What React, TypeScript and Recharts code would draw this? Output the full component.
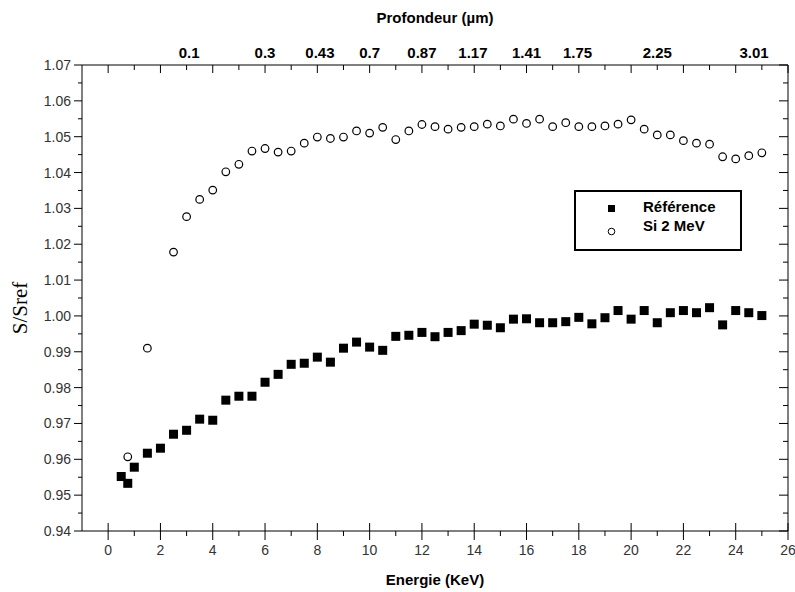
import { ScatterChart, Scatter, XAxis, YAxis, Label } from "recharts";

// Energie (KeV) / S/Sref, série "Référence"
const refEnergy = [
  0.5, 0.75, 1, 1.5, 2, 2.5, 3, 3.5, 4, 4.5, 5, 5.5, 6, 6.5, 7, 7.5, 8, 8.5, 9, 9.5, 10, 10.5, 11, 11.5, 12, 12.5,
  13, 13.5, 14, 14.5, 15, 15.5, 16, 16.5, 17, 17.5, 18, 18.5, 19, 19.5, 20, 20.5, 21, 21.5, 22, 22.5, 23, 23.5, 24,
  24.5, 25,
];
const refRatio = [
  0.9552, 0.9533, 0.9578, 0.9617, 0.9631, 0.967, 0.9681, 0.9712, 0.9709, 0.9765, 0.9776, 0.9776, 0.9815, 0.9837,
  0.9865, 0.9868, 0.9885, 0.9871, 0.991, 0.9927, 0.9913, 0.9904, 0.9943, 0.9946, 0.9954, 0.9942, 0.9954, 0.9959,
  0.9977, 0.9974, 0.9967, 0.9991, 0.9992, 0.9981, 0.9981, 0.9984, 0.9996, 0.9978, 0.9995, 1.0015, 0.9991, 1.0015,
  0.9981, 1.0009, 1.0015, 1.0009, 1.0023, 0.9975, 1.0015, 1.0009, 1.0001,
];

// série "Si 2 MeV"
const siEnergy = [
  0.75, 1.5, 2.5, 3, 3.5, 4, 4.5, 5, 5.5, 6, 6.5, 7, 7.5, 8, 8.5, 9, 9.5, 10, 10.5, 11, 11.5, 12, 12.5, 13, 13.5,
  14, 14.5, 15, 15.5, 16, 16.5, 17, 17.5, 18, 18.5, 19, 19.5, 20, 20.5, 21, 21.5, 22, 22.5, 23, 23.5, 24, 24.5, 25,
];
const siRatio = [
  0.9607, 0.991, 1.0178, 1.0277, 1.0325, 1.0351, 1.0402, 1.0423, 1.046, 1.0467, 1.0457, 1.046, 1.0482, 1.0499,
  1.0495, 1.0499, 1.0516, 1.051, 1.0526, 1.0492, 1.0516, 1.0534, 1.0528, 1.0521, 1.0526, 1.0528, 1.0535, 1.053,
  1.0549, 1.0537, 1.0549, 1.0528, 1.0539, 1.0528, 1.0528, 1.053, 1.0535, 1.0547, 1.0521, 1.0505, 1.0505, 1.0489,
  1.0482, 1.0479, 1.0444, 1.0438, 1.0447, 1.0455,
];

// axes
const energyTicks = [0, 1, 2, 3, 4, 5, 6, 7, 8, 9, 10, 11, 12, 13, 14, 15, 16, 17, 18, 19, 20, 21, 22, 23, 24, 25, 26];
const energyMajor = [0, 2, 4, 6, 8, 10, 12, 14, 16, 18, 20, 22, 24, 26];
const depthPositions = [3.1, 6, 8.1, 10, 12, 13.95, 16, 17.95, 21, 24.7];
const depthLabels = ["0.1", "0.3", "0.43", "0.7", "0.87", "1.17", "1.41", "1.75", "2.25", "3.01"];
const ratioTicks = [
  0.94, 0.945, 0.95, 0.955, 0.96, 0.965, 0.97, 0.975, 0.98, 0.985, 0.99, 0.995, 1.0, 1.005, 1.01, 1.015, 1.02,
  1.025, 1.03, 1.035, 1.04, 1.045, 1.05, 1.055, 1.06, 1.065, 1.07,
];
const ratioMajor = [0.94, 0.95, 0.96, 0.97, 0.98, 0.99, 1.0, 1.01, 1.02, 1.03, 1.04, 1.05, 1.06, 1.07];

const refData = refEnergy.map((x, i) => ({ x, y: refRatio[i] }));
const siData = siEnergy.map((x, i) => ({ x, y: siRatio[i] }));
const topTicks = Array.from(new Set([...energyTicks, ...depthPositions])).sort((a, b) => a - b);

const tickFont = { fontFamily: "'Liberation Sans', Arial, sans-serif", fontSize: 14, fill: "#333" };
const boldFont = { fontFamily: "'Liberation Sans', Arial, sans-serif", fontSize: 15, fontWeight: 700, fill: "#000" };

const isIn = (list: number[], v: number) => list.some((m) => Math.abs(m - v) < 1e-6);

function BottomTick({ x, y, payload }: any) {
  const v = payload.value;
  const major = isIn(energyMajor, v);
  return (
    <g>
      <line x1={x} x2={x} y1={major ? y - 8 : y} y2={major ? y + 9 : y + 5} stroke="#000" />
      {major && (
        <text x={x} y={y + 24} textAnchor="middle" {...tickFont}>
          {v}
        </text>
      )}
    </g>
  );
}

function TopTick({ x, y, payload }: any) {
  const v = payload.value;
  const idx = depthPositions.findIndex((p) => Math.abs(p - v) < 1e-6);
  const isTick = isIn(energyTicks, v);
  const major = isIn(energyMajor, v);
  return (
    <g>
      {isTick && <line x1={x} x2={x} y1={y} y2={major ? y + 8 : y + 5} stroke="#000" />}
      {idx >= 0 && (
        <text x={x} y={y - 7} textAnchor="middle" {...boldFont}>
          {depthLabels[idx]}
        </text>
      )}
    </g>
  );
}

function LeftTick({ x, y, payload }: any) {
  const v = payload.value;
  const major = isIn(ratioMajor, v);
  return (
    <g>
      <line x1={major ? x - 8 : x - 4} x2={x} y1={y} y2={y} stroke="#000" />
      {major && (
        <text x={x - 11} y={y + 5} textAnchor="end" {...tickFont}>
          {v.toFixed(2)}
        </text>
      )}
    </g>
  );
}

function RightTick({ x, y, payload }: any) {
  const major = isIn(ratioMajor, payload.value);
  return <line x1={major ? x - 9 : x - 5} x2={x} y1={y} y2={y} stroke="#000" />;
}

const SquareDot = ({ cx, cy }: any) => <rect x={cx - 4.5} y={cy - 4.5} width={9} height={9} fill="#000" />;
const CircleDot = ({ cx, cy }: any) => (
  <circle cx={cx} cy={cy} r={3.8} fill="#fff" stroke="#000" strokeWidth={1.2} />
);
const NoDot = () => <g />;

export default function App() {
  return (
    <div style={{ position: "absolute", left: 0, top: 0, width: 795, height: 592, background: "#fff" }}>
      <ScatterChart width={795} height={592} margin={{ top: 0, right: 0, bottom: 0, left: 0 }}>
        <XAxis
          xAxisId="bottom"
          dataKey="x"
          type="number"
          domain={[-1, 26]}
          allowDataOverflow
          ticks={energyTicks}
          interval={0}
          height={61}
          tickSize={0}
          tickMargin={0}
          tickLine={false}
          axisLine={{ stroke: "#000" }}
          tick={<BottomTick />}
        >
          <Label
            content={() => (
              <text x={435} y={585} textAnchor="middle" {...boldFont}>
                Energie (KeV)
              </text>
            )}
          />
        </XAxis>
        <XAxis
          xAxisId="top"
          dataKey="x"
          orientation="top"
          type="number"
          domain={[-1, 26]}
          allowDataOverflow
          ticks={topTicks}
          interval={0}
          height={65}
          tickSize={0}
          tickMargin={0}
          tickLine={false}
          axisLine={{ stroke: "#000" }}
          tick={<TopTick />}
        >
          <Label
            content={() => (
              <text x={435} y={23} textAnchor="middle" {...boldFont}>
                Profondeur (µm)
              </text>
            )}
          />
        </XAxis>
        <YAxis
          yAxisId="left"
          dataKey="y"
          type="number"
          domain={[0.94, 1.07]}
          allowDataOverflow
          ticks={ratioTicks}
          interval={0}
          width={82}
          tickSize={0}
          tickMargin={0}
          tickLine={false}
          axisLine={{ stroke: "#000" }}
          tick={<LeftTick />}
        >
          <Label
            content={() => (
              <text
                x={27}
                y={308}
                textAnchor="middle"
                transform="rotate(-90 27 308)"
                fontFamily="'Liberation Serif', 'Times New Roman', serif"
                fontSize={21}
                fill="#000"
              >
                S/Sref
              </text>
            )}
          />
        </YAxis>
        <YAxis
          yAxisId="right"
          dataKey="y"
          orientation="right"
          type="number"
          domain={[0.94, 1.07]}
          allowDataOverflow
          ticks={ratioTicks}
          interval={0}
          width={7}
          tickSize={0}
          tickMargin={0}
          tickLine={false}
          axisLine={{ stroke: "#000" }}
          tick={<RightTick />}
        />
        <Scatter
          name="Référence"
          data={refData}
          xAxisId="bottom"
          yAxisId="left"
          shape={<SquareDot />}
          isAnimationActive={false}
        />
        <Scatter
          name="Si 2 MeV"
          data={siData}
          xAxisId="bottom"
          yAxisId="left"
          shape={<CircleDot />}
          isAnimationActive={false}
        />
        {/* porte l'axe du haut (profondeur), sans marques visibles */}
        <Scatter data={siData} xAxisId="top" yAxisId="right" shape={<NoDot />} legendType="none" isAnimationActive={false} />
      </ScatterChart>
      <div
        style={{
          position: "absolute",
          left: 574,
          top: 190,
          width: 164,
          height: 57,
          border: "2px solid #000",
          background: "#fff",
        }}
      >
        <svg width={164} height={57} style={{ position: "absolute", left: 0, top: 0 }}>
          <rect x={32} y={13} width={7} height={7} fill="#000" />
          <circle cx={35.5} cy={39.5} r={3.3} fill="#fff" stroke="#000" strokeWidth={1} />
          <text x={67} y={20} fontFamily="'Liberation Sans', Arial, sans-serif" fontSize={15} fontWeight={700}>
            Référence
          </text>
          <text x={67} y={39} fontFamily="'Liberation Sans', Arial, sans-serif" fontSize={15} fontWeight={700}>
            Si 2 MeV
          </text>
        </svg>
      </div>
    </div>
  );
}
